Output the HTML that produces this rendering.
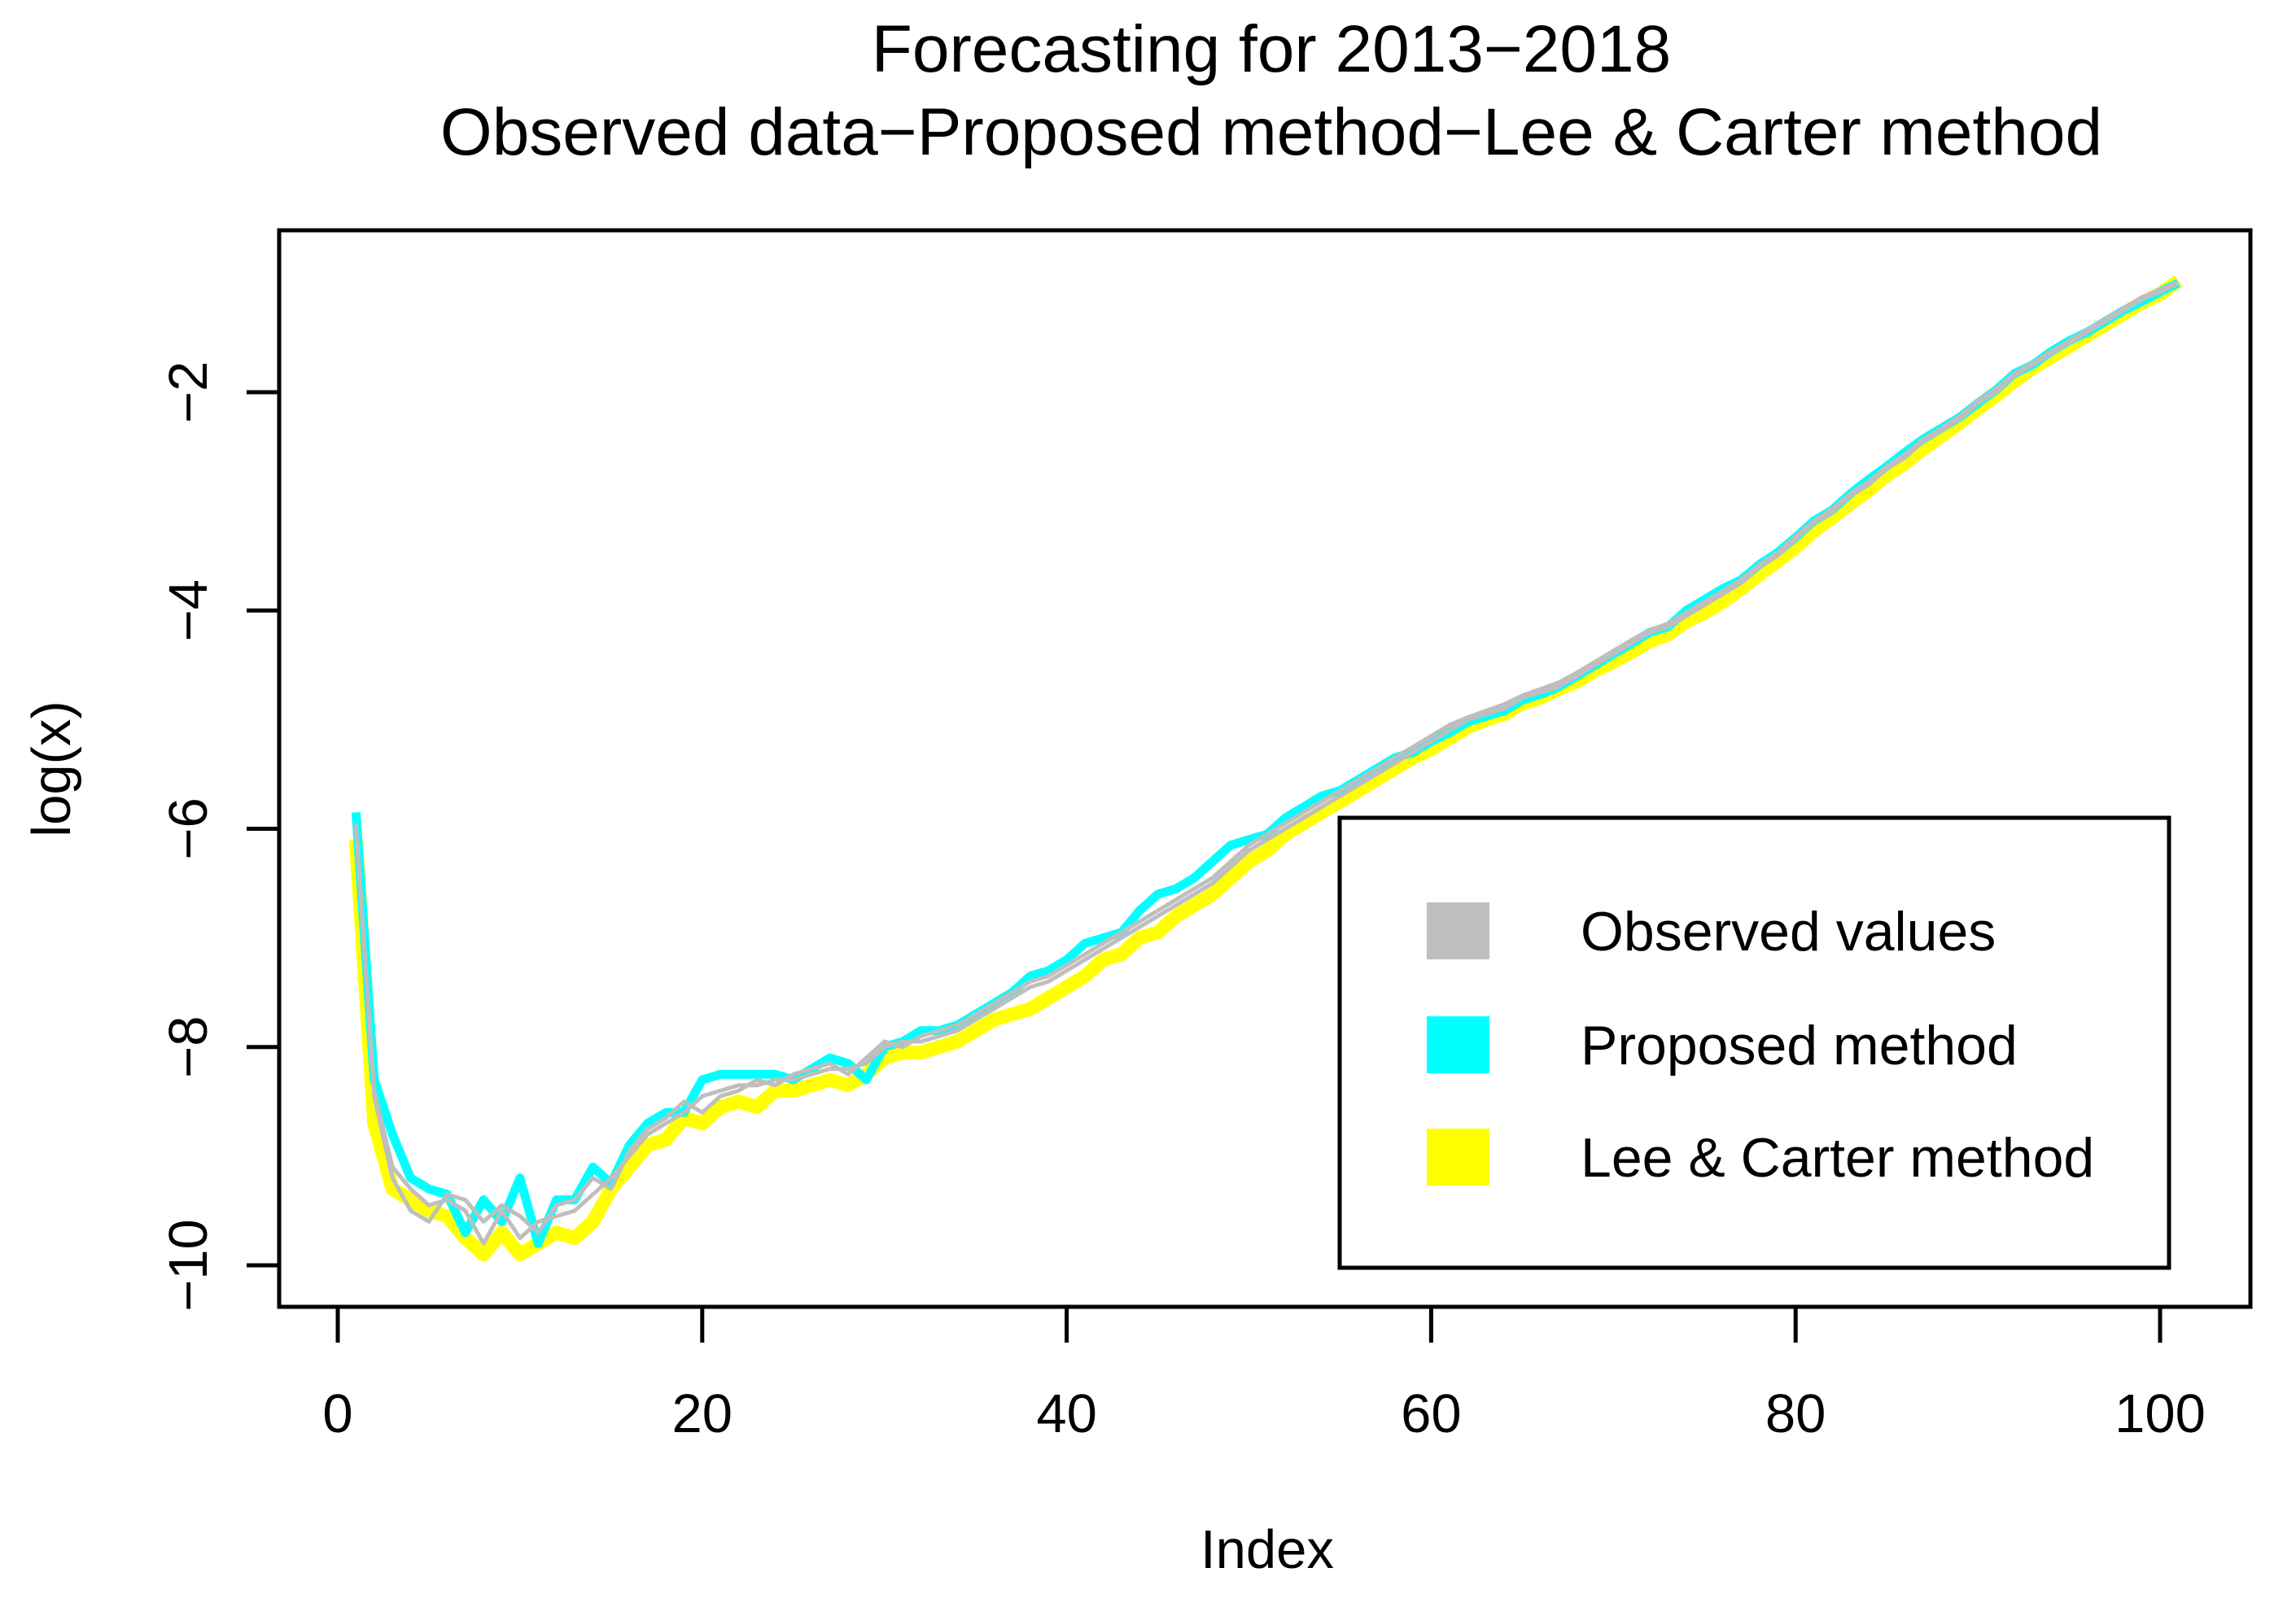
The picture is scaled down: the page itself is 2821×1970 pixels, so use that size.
<!DOCTYPE html>
<html><head><meta charset="utf-8"><style>
html,body{margin:0;padding:0;background:#fff}
svg{display:block;font-family:"Liberation Sans",Arial,sans-serif}
</style></head><body>
<svg id="chart" width="2821" height="1970" viewBox="0 0 2821 1970">
<text x="1562" y="88" font-size="82" text-anchor="middle">Forecasting for 2013−2018</text>
<text x="1562" y="190" font-size="82" text-anchor="middle">Observed data−Proposed method−Lee &amp; Carter method</text>
<g id="series"></g>
<rect x="343" y="283" width="2422" height="1323" fill="none" stroke="#000" stroke-width="5"/>
<g id="xaxis"></g>
<g id="yaxis"></g>
<text x="1557" y="1927" font-size="67" text-anchor="middle">Index</text>
<text transform="translate(86,945) rotate(-90)" font-size="67" text-anchor="middle">log(x)</text>
<g>
<rect x="1646" y="1005" width="1019" height="553" fill="#fff" stroke="#000" stroke-width="5"/>
<rect x="1753" y="1109" width="77" height="70" fill="#bebebe"/>
<text x="1942" y="1168" font-size="68">Observed values</text>
<rect x="1753" y="1249" width="77" height="70" fill="#00ffff"/>
<text x="1942" y="1308" font-size="68">Proposed method</text>
<rect x="1753" y="1387" width="77" height="70" fill="#ffff00"/>
<text x="1942" y="1446" font-size="68">Lee &amp; Carter method</text>
</g>
</svg>
<script>
const xTicks=[0,20,40,60,80,100];
const yTicks=[-10,-8,-6,-4,-2];
const observed1=[-5.95,-8.4,-9.1,-9.3,-9.45,-9.4,-9.5,-9.8,-9.5,-9.75,-9.6,-9.55,-9.5,-9.35,-9.2,-9.0,-8.8,-8.7,-8.6,-8.45,
-8.4,-8.35,-8.35,-8.3,-8.3,-8.25,-8.2,-8.2,-8.15,-8.0,-7.95,-7.95,-7.9,-7.85,-7.75,-7.65,-7.55,-7.45,-7.4,-7.3,
-7.2,-7.1,-7.0,-6.9,-6.8,-6.7,-6.6,-6.5,-6.35,-6.2,-6.1,-6.0,-5.9,-5.8,-5.7,-5.6,-5.5,-5.4,-5.3,-5.2,
-5.1,-5.0,-4.95,-4.9,-4.8,-4.75,-4.7,-4.6,-4.5,-4.4,-4.3,-4.2,-4.15,-4.05,-3.95,-3.85,-3.75,-3.6,-3.5,-3.35,
-3.2,-3.1,-2.95,-2.85,-2.7,-2.6,-2.45,-2.35,-2.25,-2.1,-2.0,-1.85,-1.75,-1.65,-1.55,-1.45,-1.35,-1.25,-1.15,-1.08,-1.0];
const observed2=[-6.0,-8.45,-9.2,-9.5,-9.6,-9.35,-9.4,-9.6,-9.45,-9.55,-9.7,-9.45,-9.4,-9.2,-9.3,-8.95,-8.75,-8.65,-8.5,-8.6,
-8.45,-8.4,-8.3,-8.35,-8.25,-8.2,-8.15,-8.25,-8.1,-7.95,-8.0,-7.9,-7.85,-7.8,-7.7,-7.6,-7.5,-7.4,-7.35,-7.25,
-7.15,-7.05,-6.95,-6.85,-6.75,-6.65,-6.55,-6.45,-6.3,-6.15,-6.05,-5.95,-5.85,-5.75,-5.65,-5.55,-5.45,-5.35,-5.25,-5.15,
-5.05,-4.98,-4.92,-4.86,-4.78,-4.72,-4.66,-4.57,-4.47,-4.37,-4.27,-4.18,-4.12,-4.02,-3.92,-3.82,-3.72,-3.58,-3.47,-3.32,
-3.18,-3.07,-2.93,-2.82,-2.68,-2.57,-2.43,-2.33,-2.22,-2.08,-1.97,-1.83,-1.73,-1.63,-1.53,-1.43,-1.33,-1.23,-1.13,-1.06,-0.99];
const proposed=[-5.85,-8.3,-8.8,-9.2,-9.3,-9.35,-9.7,-9.4,-9.6,-9.2,-9.8,-9.4,-9.4,-9.1,-9.25,-8.9,-8.7,-8.6,-8.6,-8.3,
-8.25,-8.25,-8.25,-8.25,-8.3,-8.2,-8.1,-8.15,-8.3,-8.0,-7.95,-7.85,-7.85,-7.8,-7.7,-7.6,-7.5,-7.35,-7.3,-7.2,
-7.05,-7.0,-6.95,-6.75,-6.6,-6.55,-6.45,-6.3,-6.15,-6.1,-6.05,-5.9,-5.8,-5.7,-5.65,-5.55,-5.45,-5.35,-5.3,-5.2,
-5.12,-5.02,-4.97,-4.92,-4.82,-4.77,-4.7,-4.6,-4.5,-4.4,-4.3,-4.2,-4.15,-4.0,-3.9,-3.8,-3.72,-3.58,-3.47,-3.33,
-3.18,-3.08,-2.93,-2.8,-2.68,-2.55,-2.43,-2.33,-2.23,-2.1,-1.98,-1.83,-1.75,-1.63,-1.53,-1.45,-1.35,-1.25,-1.17,-1.08,-1.0];
const leeCarter=[-6.1,-8.7,-9.3,-9.4,-9.5,-9.55,-9.75,-9.9,-9.7,-9.9,-9.8,-9.7,-9.75,-9.6,-9.3,-9.1,-8.9,-8.85,-8.65,-8.7,
-8.55,-8.5,-8.55,-8.4,-8.4,-8.35,-8.3,-8.35,-8.25,-8.1,-8.05,-8.05,-8.0,-7.95,-7.85,-7.75,-7.7,-7.65,-7.55,-7.45,
-7.35,-7.2,-7.15,-7.0,-6.95,-6.8,-6.7,-6.6,-6.45,-6.3,-6.2,-6.05,-5.95,-5.85,-5.75,-5.65,-5.55,-5.45,-5.35,-5.27,
-5.17,-5.07,-5.0,-4.95,-4.85,-4.8,-4.72,-4.65,-4.55,-4.47,-4.38,-4.28,-4.22,-4.1,-4.02,-3.92,-3.8,-3.67,-3.55,-3.42,
-3.27,-3.15,-3.02,-2.9,-2.76,-2.65,-2.52,-2.4,-2.28,-2.15,-2.03,-1.9,-1.78,-1.68,-1.58,-1.48,-1.38,-1.28,-1.18,-1.1,-0.98];

const NS='http://www.w3.org/2000/svg';
function xs(v){return 415+v*(2654-415)/100;}
function ys(v){return 482+(-2-v)*(1555-482)/8;}
function draw(arr,color,w,name){
  const p=document.createElementNS(NS,'polyline');
  p.setAttribute('points',arr.map((v,i)=>xs(i+1)+','+ys(v)).join(' '));
  p.setAttribute('fill','none');p.setAttribute('stroke',color);
  p.setAttribute('stroke-width',w);p.setAttribute('stroke-linejoin','round');
  
  
  document.getElementById('series').appendChild(p);
}
draw(leeCarter,'#ffff00',17,'lee-carter-line');
draw(proposed,'#00ffff',11,'proposed-line');
draw(observed1,'#bebebe',5,'observed-line-1');
draw(observed2,'#bebebe',5,'observed-line-2');

const xa=document.getElementById('xaxis');
xTicks.forEach(t=>{
  const l=document.createElementNS(NS,'line');
  l.setAttribute('x1',xs(t));l.setAttribute('x2',xs(t));l.setAttribute('y1',1606);l.setAttribute('y2',1650);
  l.setAttribute('stroke','#000');l.setAttribute('stroke-width',5);
  
  
  xa.appendChild(l);
  const tx=document.createElementNS(NS,'text');
  tx.setAttribute('x',xs(t));tx.setAttribute('y',1760);tx.setAttribute('font-size',67);tx.setAttribute('text-anchor','middle');
  tx.textContent=t;
  
  
  xa.appendChild(tx);
});
const xl=document.createElementNS(NS,'line');
xl.setAttribute('x1',xs(0));xl.setAttribute('x2',xs(100));xl.setAttribute('y1',1606);xl.setAttribute('y2',1606);
xl.setAttribute('stroke','#000');xl.setAttribute('stroke-width',5);


xa.appendChild(xl);
const ya=document.getElementById('yaxis');
yTicks.forEach(t=>{
  const l=document.createElementNS(NS,'line');
  l.setAttribute('x1',303);l.setAttribute('x2',343);l.setAttribute('y1',ys(t));l.setAttribute('y2',ys(t));
  l.setAttribute('stroke','#000');l.setAttribute('stroke-width',5);
  
  
  ya.appendChild(l);
  const tx=document.createElementNS(NS,'text');
  tx.setAttribute('transform','translate(254,'+ys(t)+') rotate(-90)');
  tx.setAttribute('font-size',67);tx.setAttribute('text-anchor','middle');
  tx.textContent=String(t).replace('-','−');
  
  
  ya.appendChild(tx);
});
const yl=document.createElementNS(NS,'line');
yl.setAttribute('x1',343);yl.setAttribute('x2',343);yl.setAttribute('y1',ys(-10));yl.setAttribute('y2',ys(-2));
yl.setAttribute('stroke','#000');yl.setAttribute('stroke-width',5);


ya.appendChild(yl);
</script>
</body></html>
